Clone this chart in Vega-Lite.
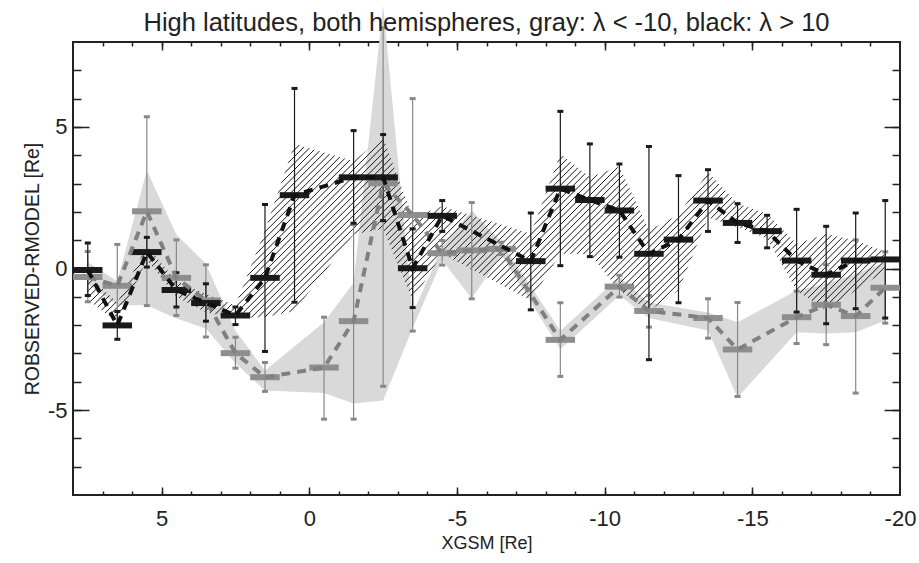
{
"$schema": "https://vega.github.io/schema/vega-lite/v6.json",
"width": 827, "height": 453,
"autosize": {"type": "none"},
"padding": {"left": 73, "top": 42, "right": 19, "bottom": 68},
"background": "white",
"title": {"text": "High latitudes, both hemispheres, gray: λ < -10, black: λ > 10", "font": "Liberation Sans", "fontSize": 25.5, "fontWeight": "normal", "color": "#222", "anchor": "middle", "frame": "group", "baseline": "alphabetic", "offset": -51.8},
"config": {"view": {"stroke": "#222", "strokeWidth": 2}},
"resolve": {"axis": {"x": "independent", "y": "independent"}},
"datasets": {
"black": [
{"x":7.5,"med":-0.05,"lo":-0.95,"hi":0.9,"blo":-1.1,"bhi":-0.25},
{"x":6.5,"med":-2.01,"lo":-2.5,"hi":-1.52,"blo":-1.9,"bhi":-1.2},
{"x":5.5,"med":0.58,"lo":0.05,"hi":1.1,"blo":0.3,"bhi":0.8},
{"x":4.5,"med":-0.76,"lo":-1.36,"hi":-0.15,"blo":-1.0,"bhi":-0.45},
{"x":3.5,"med":-1.22,"lo":-1.86,"hi":-0.54,"blo":-1.55,"bhi":-0.9},
{"x":2.5,"med":-1.66,"lo":-1.98,"hi":-1.36,"blo":-1.75,"bhi":-1.3},
{"x":1.5,"med":-0.33,"lo":-2.93,"hi":2.26,"blo":-1.72,"bhi":1.34},
{"x":0.5,"med":2.59,"lo":-1.19,"hi":6.36,"blo":-1.5,"bhi":4.4},
{"x":-1.5,"med":3.22,"lo":1.6,"hi":4.87,"blo":1.2,"bhi":3.8},
{"x":-2.5,"med":3.22,"lo":1.69,"hi":4.73,"blo":1.4,"bhi":4.64},
{"x":-3.5,"med":0.01,"lo":-1.38,"hi":1.4,"blo":-1.13,"bhi":1.81},
{"x":-4.5,"med":1.86,"lo":1.31,"hi":2.4,"blo":0.52,"bhi":2.2},
{"x":-7.5,"med":0.26,"lo":-1.46,"hi":1.96,"blo":-1.13,"bhi":1.23},
{"x":-8.5,"med":2.82,"lo":0.1,"hi":5.55,"blo":0.52,"bhi":4.05},
{"x":-9.5,"med":2.42,"lo":0.42,"hi":4.4,"blo":0.5,"bhi":3.22},
{"x":-10.5,"med":2.05,"lo":0.4,"hi":3.69,"blo":-0.78,"bhi":3.6},
{"x":-11.5,"med":0.52,"lo":-3.22,"hi":4.31,"blo":-1.5,"bhi":1.35},
{"x":-12.5,"med":1.02,"lo":-1.21,"hi":3.28,"blo":-0.78,"bhi":1.9},
{"x":-13.5,"med":2.4,"lo":1.31,"hi":3.49,"blo":1.8,"bhi":3.4},
{"x":-14.5,"med":1.61,"lo":0.92,"hi":2.29,"blo":1.46,"bhi":2.3},
{"x":-15.5,"med":1.32,"lo":0.73,"hi":1.88,"blo":1.06,"bhi":1.93},
{"x":-16.5,"med":0.28,"lo":-1.54,"hi":2.09,"blo":-0.78,"bhi":0.87},
{"x":-17.5,"med":-0.22,"lo":-1.95,"hi":1.49,"blo":-1.48,"bhi":1.22},
{"x":-18.5,"med":0.28,"lo":-1.42,"hi":1.96,"blo":-0.78,"bhi":0.99},
{"x":-19.5,"med":0.32,"lo":-1.75,"hi":2.4,"blo":-0.08,"bhi":0.59}
],
"gray": [
{"x":7.5,"med":-0.3,"lo":-1.17,"hi":0.6,"blo":-0.55,"bhi":0.22},
{"x":6.5,"med":-0.61,"lo":-2.03,"hi":0.85,"blo":-1.3,"bhi":-0.45},
{"x":5.5,"med":2.02,"lo":-1.31,"hi":5.36,"blo":-1.3,"bhi":3.46},
{"x":4.5,"med":-0.33,"lo":-1.66,"hi":1.01,"blo":-1.77,"bhi":1.2},
{"x":3.5,"med":-1.13,"lo":-2.42,"hi":0.13,"blo":-2.12,"bhi":0.17},
{"x":2.5,"med":-2.99,"lo":-3.52,"hi":-2.43,"blo":-3.35,"bhi":-2.2},
{"x":1.5,"med":-3.84,"lo":-4.34,"hi":-3.32,"blo":-4.31,"bhi":-3.6},
{"x":-0.5,"med":-3.5,"lo":-5.32,"hi":-1.72,"blo":-4.4,"bhi":-1.9},
{"x":-1.5,"med":-1.86,"lo":-5.32,"hi":1.55,"blo":-4.77,"bhi":-0.5},
{"x":-2.5,"med":3.01,"lo":-4.16,"hi":8.5,"blo":-4.66,"bhi":9.3},
{"x":-3.5,"med":1.89,"lo":-2.21,"hi":6.0,"blo":-2.1,"bhi":-1.6},
{"x":-4.5,"med":0.54,"lo":0.12,"hi":0.99,"blo":0.29,"bhi":0.77},
{"x":-5.5,"med":0.64,"lo":-1.07,"hi":2.33,"blo":-1.06,"bhi":2.05},
{"x":-6.5,"med":0.69,"lo":0.49,"hi":0.93,"blo":0.48,"bhi":0.94},
{"x":-8.5,"med":-2.52,"lo":-3.81,"hi":-1.21,"blo":-2.85,"bhi":-2.2},
{"x":-10.5,"med":-0.64,"lo":-1.01,"hi":-0.24,"blo":-0.95,"bhi":-0.3},
{"x":-11.5,"med":-1.5,"lo":-2.07,"hi":-0.95,"blo":-1.75,"bhi":-1.2},
{"x":-13.5,"med":-1.75,"lo":-2.46,"hi":-1.07,"blo":-2.19,"bhi":-1.55},
{"x":-14.5,"med":-2.86,"lo":-4.52,"hi":-1.2,"blo":-4.56,"bhi":-1.9},
{"x":-16.5,"med":-1.72,"lo":-2.65,"hi":-0.8,"blo":-2.25,"bhi":-0.78},
{"x":-17.5,"med":-1.28,"lo":-2.69,"hi":0.13,"blo":-2.3,"bhi":-0.54},
{"x":-18.5,"med":-1.68,"lo":-4.4,"hi":1.01,"blo":-2.25,"bhi":-0.19},
{"x":-19.5,"med":-0.68,"lo":-1.93,"hi":0.59,"blo":-1.84,"bhi":0.22}
]
},
"layer": [
{"data": {"name": "gray"},
 "mark": {"type": "area", "color": "#d9d9d9", "opacity": 1},
 "encoding": {
  "x": {"field": "x", "type": "quantitative", "scale": {"domain": [-20, 8], "reverse": true, "nice": false, "zero": false},
        "axis": {"orient": "bottom", "values": [5, 0, -5, -10, -15, -20], "ticks": false, "tickSize": 0, "domain": false, "grid": false, "labelFont": "Liberation Sans", "labelFontSize": 22, "labelColor": "#222", "labelPadding": 13, "labelFlush": false, "labelOverlap": false, "labelBound": false, "labelExpr": "'' + datum.value", "title": "XGSM [Re]", "titleFont": "Liberation Sans", "titleFontSize": 18, "titleFontWeight": "normal", "titleColor": "#222", "titlePadding": 5}},
  "y": {"field": "blo", "type": "quantitative", "scale": {"domain": [-8, 8], "nice": false, "zero": false},
        "axis": {"orient": "left", "values": [5, 0, -5], "ticks": false, "tickSize": 0, "domain": false, "grid": false, "labelFont": "Liberation Sans", "labelFontSize": 22, "labelColor": "#222", "labelPadding": 6, "labelFlush": false, "labelOverlap": false, "labelBound": false, "labelExpr": "'' + datum.value", "title": "ROBSERVED-RMODEL [Re]", "titleFont": "Liberation Sans", "titleFontSize": 19.5, "titleFontWeight": "normal", "titleColor": "#222", "titlePadding": 5}},
  "y2": {"field": "bhi"}
 }},
{"data": {"name": "black"},
 "mark": {"type": "area", "fill": {"gradient": "linear", "x1": 0, "y1": 0, "x2": 1.1692, "y2": 0.2715, "stops": [
{"offset":0.0023,"color":"transparent"},{"offset":0.0033,"color":"#1a1a1a"},{"offset":0.0043,"color":"transparent"},{"offset":0.009,"color":"transparent"},{"offset":0.01,"color":"#1a1a1a"},{"offset":0.011,"color":"transparent"},{"offset":0.0157,"color":"transparent"},{"offset":0.0167,"color":"#1a1a1a"},{"offset":0.0177,"color":"transparent"},
{"offset":0.0223,"color":"transparent"},{"offset":0.0233,"color":"#1a1a1a"},{"offset":0.0243,"color":"transparent"},{"offset":0.029,"color":"transparent"},{"offset":0.03,"color":"#1a1a1a"},{"offset":0.031,"color":"transparent"},{"offset":0.0357,"color":"transparent"},{"offset":0.0367,"color":"#1a1a1a"},{"offset":0.0377,"color":"transparent"},
{"offset":0.0423,"color":"transparent"},{"offset":0.0433,"color":"#1a1a1a"},{"offset":0.0443,"color":"transparent"},{"offset":0.049,"color":"transparent"},{"offset":0.05,"color":"#1a1a1a"},{"offset":0.051,"color":"transparent"},{"offset":0.0557,"color":"transparent"},{"offset":0.0567,"color":"#1a1a1a"},{"offset":0.0577,"color":"transparent"},
{"offset":0.0623,"color":"transparent"},{"offset":0.0633,"color":"#1a1a1a"},{"offset":0.0643,"color":"transparent"},{"offset":0.069,"color":"transparent"},{"offset":0.07,"color":"#1a1a1a"},{"offset":0.071,"color":"transparent"},{"offset":0.0757,"color":"transparent"},{"offset":0.0767,"color":"#1a1a1a"},{"offset":0.0777,"color":"transparent"},
{"offset":0.0823,"color":"transparent"},{"offset":0.0833,"color":"#1a1a1a"},{"offset":0.0843,"color":"transparent"},{"offset":0.089,"color":"transparent"},{"offset":0.09,"color":"#1a1a1a"},{"offset":0.091,"color":"transparent"},{"offset":0.0957,"color":"transparent"},{"offset":0.0967,"color":"#1a1a1a"},{"offset":0.0977,"color":"transparent"},
{"offset":0.1023,"color":"transparent"},{"offset":0.1033,"color":"#1a1a1a"},{"offset":0.1043,"color":"transparent"},{"offset":0.109,"color":"transparent"},{"offset":0.11,"color":"#1a1a1a"},{"offset":0.111,"color":"transparent"},{"offset":0.1157,"color":"transparent"},{"offset":0.1167,"color":"#1a1a1a"},{"offset":0.1177,"color":"transparent"},
{"offset":0.1223,"color":"transparent"},{"offset":0.1233,"color":"#1a1a1a"},{"offset":0.1243,"color":"transparent"},{"offset":0.129,"color":"transparent"},{"offset":0.13,"color":"#1a1a1a"},{"offset":0.131,"color":"transparent"},{"offset":0.1357,"color":"transparent"},{"offset":0.1367,"color":"#1a1a1a"},{"offset":0.1377,"color":"transparent"},
{"offset":0.1423,"color":"transparent"},{"offset":0.1433,"color":"#1a1a1a"},{"offset":0.1443,"color":"transparent"},{"offset":0.149,"color":"transparent"},{"offset":0.15,"color":"#1a1a1a"},{"offset":0.151,"color":"transparent"},{"offset":0.1557,"color":"transparent"},{"offset":0.1567,"color":"#1a1a1a"},{"offset":0.1577,"color":"transparent"},
{"offset":0.1623,"color":"transparent"},{"offset":0.1633,"color":"#1a1a1a"},{"offset":0.1643,"color":"transparent"},{"offset":0.169,"color":"transparent"},{"offset":0.17,"color":"#1a1a1a"},{"offset":0.171,"color":"transparent"},{"offset":0.1757,"color":"transparent"},{"offset":0.1767,"color":"#1a1a1a"},{"offset":0.1777,"color":"transparent"},
{"offset":0.1823,"color":"transparent"},{"offset":0.1833,"color":"#1a1a1a"},{"offset":0.1843,"color":"transparent"},{"offset":0.189,"color":"transparent"},{"offset":0.19,"color":"#1a1a1a"},{"offset":0.191,"color":"transparent"},{"offset":0.1957,"color":"transparent"},{"offset":0.1967,"color":"#1a1a1a"},{"offset":0.1977,"color":"transparent"},
{"offset":0.2023,"color":"transparent"},{"offset":0.2033,"color":"#1a1a1a"},{"offset":0.2043,"color":"transparent"},{"offset":0.209,"color":"transparent"},{"offset":0.21,"color":"#1a1a1a"},{"offset":0.211,"color":"transparent"},{"offset":0.2157,"color":"transparent"},{"offset":0.2167,"color":"#1a1a1a"},{"offset":0.2177,"color":"transparent"},
{"offset":0.2223,"color":"transparent"},{"offset":0.2233,"color":"#1a1a1a"},{"offset":0.2243,"color":"transparent"},{"offset":0.229,"color":"transparent"},{"offset":0.23,"color":"#1a1a1a"},{"offset":0.231,"color":"transparent"},{"offset":0.2357,"color":"transparent"},{"offset":0.2367,"color":"#1a1a1a"},{"offset":0.2377,"color":"transparent"},
{"offset":0.2423,"color":"transparent"},{"offset":0.2433,"color":"#1a1a1a"},{"offset":0.2443,"color":"transparent"},{"offset":0.249,"color":"transparent"},{"offset":0.25,"color":"#1a1a1a"},{"offset":0.251,"color":"transparent"},{"offset":0.2557,"color":"transparent"},{"offset":0.2567,"color":"#1a1a1a"},{"offset":0.2577,"color":"transparent"},
{"offset":0.2623,"color":"transparent"},{"offset":0.2633,"color":"#1a1a1a"},{"offset":0.2643,"color":"transparent"},{"offset":0.269,"color":"transparent"},{"offset":0.27,"color":"#1a1a1a"},{"offset":0.271,"color":"transparent"},{"offset":0.2757,"color":"transparent"},{"offset":0.2767,"color":"#1a1a1a"},{"offset":0.2777,"color":"transparent"},
{"offset":0.2823,"color":"transparent"},{"offset":0.2833,"color":"#1a1a1a"},{"offset":0.2843,"color":"transparent"},{"offset":0.289,"color":"transparent"},{"offset":0.29,"color":"#1a1a1a"},{"offset":0.291,"color":"transparent"},{"offset":0.2957,"color":"transparent"},{"offset":0.2967,"color":"#1a1a1a"},{"offset":0.2977,"color":"transparent"},
{"offset":0.3023,"color":"transparent"},{"offset":0.3033,"color":"#1a1a1a"},{"offset":0.3043,"color":"transparent"},{"offset":0.309,"color":"transparent"},{"offset":0.31,"color":"#1a1a1a"},{"offset":0.311,"color":"transparent"},{"offset":0.3157,"color":"transparent"},{"offset":0.3167,"color":"#1a1a1a"},{"offset":0.3177,"color":"transparent"},
{"offset":0.3223,"color":"transparent"},{"offset":0.3233,"color":"#1a1a1a"},{"offset":0.3243,"color":"transparent"},{"offset":0.329,"color":"transparent"},{"offset":0.33,"color":"#1a1a1a"},{"offset":0.331,"color":"transparent"},{"offset":0.3357,"color":"transparent"},{"offset":0.3367,"color":"#1a1a1a"},{"offset":0.3377,"color":"transparent"},
{"offset":0.3423,"color":"transparent"},{"offset":0.3433,"color":"#1a1a1a"},{"offset":0.3443,"color":"transparent"},{"offset":0.349,"color":"transparent"},{"offset":0.35,"color":"#1a1a1a"},{"offset":0.351,"color":"transparent"},{"offset":0.3557,"color":"transparent"},{"offset":0.3567,"color":"#1a1a1a"},{"offset":0.3577,"color":"transparent"},
{"offset":0.3623,"color":"transparent"},{"offset":0.3633,"color":"#1a1a1a"},{"offset":0.3643,"color":"transparent"},{"offset":0.369,"color":"transparent"},{"offset":0.37,"color":"#1a1a1a"},{"offset":0.371,"color":"transparent"},{"offset":0.3757,"color":"transparent"},{"offset":0.3767,"color":"#1a1a1a"},{"offset":0.3777,"color":"transparent"},
{"offset":0.3823,"color":"transparent"},{"offset":0.3833,"color":"#1a1a1a"},{"offset":0.3843,"color":"transparent"},{"offset":0.389,"color":"transparent"},{"offset":0.39,"color":"#1a1a1a"},{"offset":0.391,"color":"transparent"},{"offset":0.3957,"color":"transparent"},{"offset":0.3967,"color":"#1a1a1a"},{"offset":0.3977,"color":"transparent"},
{"offset":0.4023,"color":"transparent"},{"offset":0.4033,"color":"#1a1a1a"},{"offset":0.4043,"color":"transparent"},{"offset":0.409,"color":"transparent"},{"offset":0.41,"color":"#1a1a1a"},{"offset":0.411,"color":"transparent"},{"offset":0.4157,"color":"transparent"},{"offset":0.4167,"color":"#1a1a1a"},{"offset":0.4177,"color":"transparent"},
{"offset":0.4223,"color":"transparent"},{"offset":0.4233,"color":"#1a1a1a"},{"offset":0.4243,"color":"transparent"},{"offset":0.429,"color":"transparent"},{"offset":0.43,"color":"#1a1a1a"},{"offset":0.431,"color":"transparent"},{"offset":0.4357,"color":"transparent"},{"offset":0.4367,"color":"#1a1a1a"},{"offset":0.4377,"color":"transparent"},
{"offset":0.4423,"color":"transparent"},{"offset":0.4433,"color":"#1a1a1a"},{"offset":0.4443,"color":"transparent"},{"offset":0.449,"color":"transparent"},{"offset":0.45,"color":"#1a1a1a"},{"offset":0.451,"color":"transparent"},{"offset":0.4557,"color":"transparent"},{"offset":0.4567,"color":"#1a1a1a"},{"offset":0.4577,"color":"transparent"},
{"offset":0.4623,"color":"transparent"},{"offset":0.4633,"color":"#1a1a1a"},{"offset":0.4643,"color":"transparent"},{"offset":0.469,"color":"transparent"},{"offset":0.47,"color":"#1a1a1a"},{"offset":0.471,"color":"transparent"},{"offset":0.4757,"color":"transparent"},{"offset":0.4767,"color":"#1a1a1a"},{"offset":0.4777,"color":"transparent"},
{"offset":0.4823,"color":"transparent"},{"offset":0.4833,"color":"#1a1a1a"},{"offset":0.4843,"color":"transparent"},{"offset":0.489,"color":"transparent"},{"offset":0.49,"color":"#1a1a1a"},{"offset":0.491,"color":"transparent"},{"offset":0.4957,"color":"transparent"},{"offset":0.4967,"color":"#1a1a1a"},{"offset":0.4977,"color":"transparent"},
{"offset":0.5023,"color":"transparent"},{"offset":0.5033,"color":"#1a1a1a"},{"offset":0.5043,"color":"transparent"},{"offset":0.509,"color":"transparent"},{"offset":0.51,"color":"#1a1a1a"},{"offset":0.511,"color":"transparent"},{"offset":0.5157,"color":"transparent"},{"offset":0.5167,"color":"#1a1a1a"},{"offset":0.5177,"color":"transparent"},
{"offset":0.5223,"color":"transparent"},{"offset":0.5233,"color":"#1a1a1a"},{"offset":0.5243,"color":"transparent"},{"offset":0.529,"color":"transparent"},{"offset":0.53,"color":"#1a1a1a"},{"offset":0.531,"color":"transparent"},{"offset":0.5357,"color":"transparent"},{"offset":0.5367,"color":"#1a1a1a"},{"offset":0.5377,"color":"transparent"},
{"offset":0.5423,"color":"transparent"},{"offset":0.5433,"color":"#1a1a1a"},{"offset":0.5443,"color":"transparent"},{"offset":0.549,"color":"transparent"},{"offset":0.55,"color":"#1a1a1a"},{"offset":0.551,"color":"transparent"},{"offset":0.5557,"color":"transparent"},{"offset":0.5567,"color":"#1a1a1a"},{"offset":0.5577,"color":"transparent"},
{"offset":0.5623,"color":"transparent"},{"offset":0.5633,"color":"#1a1a1a"},{"offset":0.5643,"color":"transparent"},{"offset":0.569,"color":"transparent"},{"offset":0.57,"color":"#1a1a1a"},{"offset":0.571,"color":"transparent"},{"offset":0.5757,"color":"transparent"},{"offset":0.5767,"color":"#1a1a1a"},{"offset":0.5777,"color":"transparent"},
{"offset":0.5823,"color":"transparent"},{"offset":0.5833,"color":"#1a1a1a"},{"offset":0.5843,"color":"transparent"},{"offset":0.589,"color":"transparent"},{"offset":0.59,"color":"#1a1a1a"},{"offset":0.591,"color":"transparent"},{"offset":0.5957,"color":"transparent"},{"offset":0.5967,"color":"#1a1a1a"},{"offset":0.5977,"color":"transparent"},
{"offset":0.6023,"color":"transparent"},{"offset":0.6033,"color":"#1a1a1a"},{"offset":0.6043,"color":"transparent"},{"offset":0.609,"color":"transparent"},{"offset":0.61,"color":"#1a1a1a"},{"offset":0.611,"color":"transparent"},{"offset":0.6157,"color":"transparent"},{"offset":0.6167,"color":"#1a1a1a"},{"offset":0.6177,"color":"transparent"},
{"offset":0.6223,"color":"transparent"},{"offset":0.6233,"color":"#1a1a1a"},{"offset":0.6243,"color":"transparent"},{"offset":0.629,"color":"transparent"},{"offset":0.63,"color":"#1a1a1a"},{"offset":0.631,"color":"transparent"},{"offset":0.6357,"color":"transparent"},{"offset":0.6367,"color":"#1a1a1a"},{"offset":0.6377,"color":"transparent"},
{"offset":0.6423,"color":"transparent"},{"offset":0.6433,"color":"#1a1a1a"},{"offset":0.6443,"color":"transparent"},{"offset":0.649,"color":"transparent"},{"offset":0.65,"color":"#1a1a1a"},{"offset":0.651,"color":"transparent"},{"offset":0.6557,"color":"transparent"},{"offset":0.6567,"color":"#1a1a1a"},{"offset":0.6577,"color":"transparent"},
{"offset":0.6623,"color":"transparent"},{"offset":0.6633,"color":"#1a1a1a"},{"offset":0.6643,"color":"transparent"},{"offset":0.669,"color":"transparent"},{"offset":0.67,"color":"#1a1a1a"},{"offset":0.671,"color":"transparent"},{"offset":0.6757,"color":"transparent"},{"offset":0.6767,"color":"#1a1a1a"},{"offset":0.6777,"color":"transparent"},
{"offset":0.6823,"color":"transparent"},{"offset":0.6833,"color":"#1a1a1a"},{"offset":0.6843,"color":"transparent"},{"offset":0.689,"color":"transparent"},{"offset":0.69,"color":"#1a1a1a"},{"offset":0.691,"color":"transparent"},{"offset":0.6957,"color":"transparent"},{"offset":0.6967,"color":"#1a1a1a"},{"offset":0.6977,"color":"transparent"},
{"offset":0.7023,"color":"transparent"},{"offset":0.7033,"color":"#1a1a1a"},{"offset":0.7043,"color":"transparent"},{"offset":0.709,"color":"transparent"},{"offset":0.71,"color":"#1a1a1a"},{"offset":0.711,"color":"transparent"},{"offset":0.7157,"color":"transparent"},{"offset":0.7167,"color":"#1a1a1a"},{"offset":0.7177,"color":"transparent"},
{"offset":0.7223,"color":"transparent"},{"offset":0.7233,"color":"#1a1a1a"},{"offset":0.7243,"color":"transparent"},{"offset":0.729,"color":"transparent"},{"offset":0.73,"color":"#1a1a1a"},{"offset":0.731,"color":"transparent"},{"offset":0.7357,"color":"transparent"},{"offset":0.7367,"color":"#1a1a1a"},{"offset":0.7377,"color":"transparent"},
{"offset":0.7423,"color":"transparent"},{"offset":0.7433,"color":"#1a1a1a"},{"offset":0.7443,"color":"transparent"},{"offset":0.749,"color":"transparent"},{"offset":0.75,"color":"#1a1a1a"},{"offset":0.751,"color":"transparent"},{"offset":0.7557,"color":"transparent"},{"offset":0.7567,"color":"#1a1a1a"},{"offset":0.7577,"color":"transparent"},
{"offset":0.7623,"color":"transparent"},{"offset":0.7633,"color":"#1a1a1a"},{"offset":0.7643,"color":"transparent"},{"offset":0.769,"color":"transparent"},{"offset":0.77,"color":"#1a1a1a"},{"offset":0.771,"color":"transparent"},{"offset":0.7757,"color":"transparent"},{"offset":0.7767,"color":"#1a1a1a"},{"offset":0.7777,"color":"transparent"},
{"offset":0.7823,"color":"transparent"},{"offset":0.7833,"color":"#1a1a1a"},{"offset":0.7843,"color":"transparent"},{"offset":0.789,"color":"transparent"},{"offset":0.79,"color":"#1a1a1a"},{"offset":0.791,"color":"transparent"},{"offset":0.7957,"color":"transparent"},{"offset":0.7967,"color":"#1a1a1a"},{"offset":0.7977,"color":"transparent"},
{"offset":0.8023,"color":"transparent"},{"offset":0.8033,"color":"#1a1a1a"},{"offset":0.8043,"color":"transparent"},{"offset":0.809,"color":"transparent"},{"offset":0.81,"color":"#1a1a1a"},{"offset":0.811,"color":"transparent"},{"offset":0.8157,"color":"transparent"},{"offset":0.8167,"color":"#1a1a1a"},{"offset":0.8177,"color":"transparent"},
{"offset":0.8223,"color":"transparent"},{"offset":0.8233,"color":"#1a1a1a"},{"offset":0.8243,"color":"transparent"},{"offset":0.829,"color":"transparent"},{"offset":0.83,"color":"#1a1a1a"},{"offset":0.831,"color":"transparent"},{"offset":0.8357,"color":"transparent"},{"offset":0.8367,"color":"#1a1a1a"},{"offset":0.8377,"color":"transparent"},
{"offset":0.8423,"color":"transparent"},{"offset":0.8433,"color":"#1a1a1a"},{"offset":0.8443,"color":"transparent"},{"offset":0.849,"color":"transparent"},{"offset":0.85,"color":"#1a1a1a"},{"offset":0.851,"color":"transparent"},{"offset":0.8557,"color":"transparent"},{"offset":0.8567,"color":"#1a1a1a"},{"offset":0.8577,"color":"transparent"},
{"offset":0.8623,"color":"transparent"},{"offset":0.8633,"color":"#1a1a1a"},{"offset":0.8643,"color":"transparent"},{"offset":0.869,"color":"transparent"},{"offset":0.87,"color":"#1a1a1a"},{"offset":0.871,"color":"transparent"},{"offset":0.8757,"color":"transparent"},{"offset":0.8767,"color":"#1a1a1a"},{"offset":0.8777,"color":"transparent"},
{"offset":0.8823,"color":"transparent"},{"offset":0.8833,"color":"#1a1a1a"},{"offset":0.8843,"color":"transparent"},{"offset":0.889,"color":"transparent"},{"offset":0.89,"color":"#1a1a1a"},{"offset":0.891,"color":"transparent"},{"offset":0.8957,"color":"transparent"},{"offset":0.8967,"color":"#1a1a1a"},{"offset":0.8977,"color":"transparent"},
{"offset":0.9023,"color":"transparent"},{"offset":0.9033,"color":"#1a1a1a"},{"offset":0.9043,"color":"transparent"},{"offset":0.909,"color":"transparent"},{"offset":0.91,"color":"#1a1a1a"},{"offset":0.911,"color":"transparent"},{"offset":0.9157,"color":"transparent"},{"offset":0.9167,"color":"#1a1a1a"},{"offset":0.9177,"color":"transparent"},
{"offset":0.9223,"color":"transparent"},{"offset":0.9233,"color":"#1a1a1a"},{"offset":0.9243,"color":"transparent"},{"offset":0.929,"color":"transparent"},{"offset":0.93,"color":"#1a1a1a"},{"offset":0.931,"color":"transparent"},{"offset":0.9357,"color":"transparent"},{"offset":0.9367,"color":"#1a1a1a"},{"offset":0.9377,"color":"transparent"},
{"offset":0.9423,"color":"transparent"},{"offset":0.9433,"color":"#1a1a1a"},{"offset":0.9443,"color":"transparent"},{"offset":0.949,"color":"transparent"},{"offset":0.95,"color":"#1a1a1a"},{"offset":0.951,"color":"transparent"},{"offset":0.9557,"color":"transparent"},{"offset":0.9567,"color":"#1a1a1a"},{"offset":0.9577,"color":"transparent"},
{"offset":0.9623,"color":"transparent"},{"offset":0.9633,"color":"#1a1a1a"},{"offset":0.9643,"color":"transparent"},{"offset":0.969,"color":"transparent"},{"offset":0.97,"color":"#1a1a1a"},{"offset":0.971,"color":"transparent"},{"offset":0.9757,"color":"transparent"},{"offset":0.9767,"color":"#1a1a1a"},{"offset":0.9777,"color":"transparent"},
{"offset":0.9823,"color":"transparent"},{"offset":0.9833,"color":"#1a1a1a"},{"offset":0.9843,"color":"transparent"},{"offset":0.989,"color":"transparent"},{"offset":0.99,"color":"#1a1a1a"},{"offset":0.991,"color":"transparent"},{"offset":0.9957,"color":"transparent"},{"offset":0.9967,"color":"#1a1a1a"},{"offset":0.9977,"color":"transparent"}
 ]}},
 "encoding": {
  "x": {"field": "x", "type": "quantitative", "scale": {"domain": [-20, 8], "reverse": true, "nice": false, "zero": false},
        "axis": {"orient": "bottom", "values": [5, 0, -5, -10, -15], "tickSize": -8, "tickWidth": 1.5, "tickColor": "#222", "labels": false, "domain": false, "grid": false, "title": null}},
  "y": {"field": "blo", "type": "quantitative", "scale": {"domain": [-8, 8], "nice": false, "zero": false},
        "axis": {"orient": "left", "values": [5, 0, -5], "tickSize": -16, "tickWidth": 1.5, "tickColor": "#222", "labels": false, "domain": false, "grid": false, "title": null}},
  "y2": {"field": "bhi"}
 }},
{"data": {"name": "gray"},
 "mark": {"type": "rule", "color": "#888888", "strokeWidth": 1.2},
 "encoding": {
  "x": {"field": "x", "type": "quantitative", "scale": {"domain": [-20, 8], "reverse": true, "nice": false, "zero": false},
        "axis": {"orient": "bottom", "values": [7,6,5,4,3,2,1,0,-1,-2,-3,-4,-5,-6,-7,-8,-9,-10,-11,-12,-13,-14,-15,-16,-17,-18,-19], "tickSize": -4, "tickWidth": 1.5, "tickColor": "#222", "labels": false, "domain": false, "grid": false, "title": null}},
  "y": {"field": "lo", "type": "quantitative", "scale": {"domain": [-8, 8], "nice": false, "zero": false},
        "axis": {"orient": "left", "values": [-7,-6,-5,-4,-3,-2,-1,0,1,2,3,4,5,6,7], "tickSize": -8, "tickWidth": 1.5, "tickColor": "#222", "labels": false, "domain": false, "grid": false, "title": null}},
  "y2": {"field": "hi"}
 }},
{"data": {"name": "gray"},
 "mark": {"type": "tick", "orient": "horizontal", "color": "#888888", "size": 6, "thickness": 3, "opacity": 1},
 "encoding": {
  "x": {"field": "x", "type": "quantitative", "scale": {"domain": [-20, 8], "reverse": true, "nice": false, "zero": false},
        "axis": {"orient": "top", "values": [5, 0, -5, -10, -15], "tickSize": -8, "tickWidth": 1.5, "tickColor": "#222", "labels": false, "domain": false, "grid": false, "title": null}},
  "y": {"field": "lo", "type": "quantitative", "scale": {"domain": [-8, 8], "nice": false, "zero": false},
        "axis": {"orient": "right", "values": [5, 0, -5], "tickSize": -16, "tickWidth": 1.5, "tickColor": "#222", "labels": false, "domain": false, "grid": false, "title": null}}
 }},
{"data": {"name": "gray"},
 "mark": {"type": "tick", "orient": "horizontal", "color": "#888888", "size": 6, "thickness": 3, "opacity": 1},
 "encoding": {
  "x": {"field": "x", "type": "quantitative", "scale": {"domain": [-20, 8], "reverse": true, "nice": false, "zero": false},
        "axis": {"orient": "top", "values": [7,6,5,4,3,2,1,0,-1,-2,-3,-4,-5,-6,-7,-8,-9,-10,-11,-12,-13,-14,-15,-16,-17,-18,-19], "tickSize": -4, "tickWidth": 1.5, "tickColor": "#222", "labels": false, "domain": false, "grid": false, "title": null}},
  "y": {"field": "hi", "type": "quantitative", "scale": {"domain": [-8, 8], "nice": false, "zero": false},
        "axis": {"orient": "right", "values": [-7,-6,-5,-4,-3,-2,-1,0,1,2,3,4,5,6,7], "tickSize": -8, "tickWidth": 1.5, "tickColor": "#222", "labels": false, "domain": false, "grid": false, "title": null}}
 }},
{"data": {"name": "black"},
 "mark": {"type": "rule", "color": "#1a1a1a", "strokeWidth": 1.2},
 "encoding": {
  "x": {"field": "x", "type": "quantitative", "scale": {"domain": [-20, 8], "reverse": true, "nice": false, "zero": false}, "axis": null},
  "y": {"field": "lo", "type": "quantitative", "scale": {"domain": [-8, 8], "nice": false, "zero": false}, "axis": null},
  "y2": {"field": "hi"}
 }},
{"data": {"name": "black"},
 "mark": {"type": "tick", "orient": "horizontal", "color": "#1a1a1a", "size": 6, "thickness": 3, "opacity": 1},
 "encoding": {
  "x": {"field": "x", "type": "quantitative", "scale": {"domain": [-20, 8], "reverse": true, "nice": false, "zero": false}, "axis": null},
  "y": {"field": "lo", "type": "quantitative", "scale": {"domain": [-8, 8], "nice": false, "zero": false}, "axis": null}
 }},
{"data": {"name": "black"},
 "mark": {"type": "tick", "orient": "horizontal", "color": "#1a1a1a", "size": 6, "thickness": 3, "opacity": 1},
 "encoding": {
  "x": {"field": "x", "type": "quantitative", "scale": {"domain": [-20, 8], "reverse": true, "nice": false, "zero": false}, "axis": null},
  "y": {"field": "hi", "type": "quantitative", "scale": {"domain": [-8, 8], "nice": false, "zero": false}, "axis": null}
 }},
{"data": {"name": "gray"},
 "mark": {"type": "tick", "orient": "horizontal", "color": "#8e8e8e", "size": 29.5, "thickness": 6, "opacity": 1},
 "encoding": {
  "x": {"field": "x", "type": "quantitative", "scale": {"domain": [-20, 8], "reverse": true, "nice": false, "zero": false}, "axis": null},
  "y": {"field": "med", "type": "quantitative", "scale": {"domain": [-8, 8], "nice": false, "zero": false}, "axis": null}
 }},
{"data": {"name": "black"},
 "mark": {"type": "tick", "orient": "horizontal", "color": "#1a1a1a", "size": 29.5, "thickness": 6, "opacity": 1},
 "encoding": {
  "x": {"field": "x", "type": "quantitative", "scale": {"domain": [-20, 8], "reverse": true, "nice": false, "zero": false}, "axis": null},
  "y": {"field": "med", "type": "quantitative", "scale": {"domain": [-8, 8], "nice": false, "zero": false}, "axis": null}
 }},
{"data": {"name": "gray"},
 "mark": {"type": "line", "color": "#808080", "strokeWidth": 4, "strokeDash": [9, 7]},
 "encoding": {
  "x": {"field": "x", "type": "quantitative", "scale": {"domain": [-20, 8], "reverse": true, "nice": false, "zero": false}, "axis": null},
  "y": {"field": "med", "type": "quantitative", "scale": {"domain": [-8, 8], "nice": false, "zero": false}, "axis": null}
 }},
{"data": {"name": "black"},
 "mark": {"type": "line", "color": "#111111", "strokeWidth": 4, "strokeDash": [9, 7]},
 "encoding": {
  "x": {"field": "x", "type": "quantitative", "scale": {"domain": [-20, 8], "reverse": true, "nice": false, "zero": false}, "axis": null},
  "y": {"field": "med", "type": "quantitative", "scale": {"domain": [-8, 8], "nice": false, "zero": false}, "axis": null}
 }}
]
}
